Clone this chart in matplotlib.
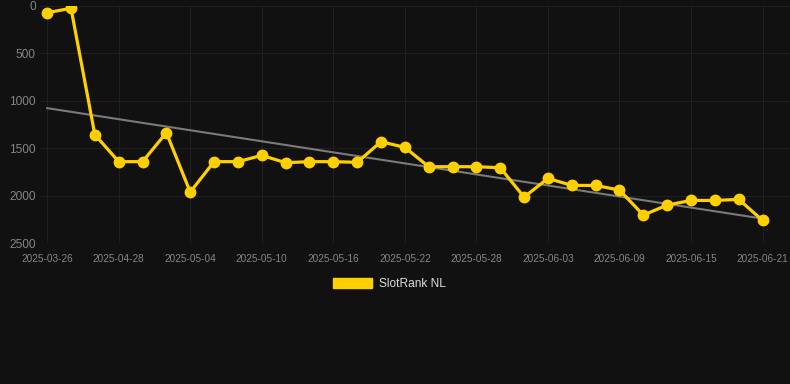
import matplotlib
matplotlib.use("Agg")
import matplotlib.pyplot as plt
import matplotlib.patches as mpatches
import numpy as np

dates = ["2025-03-26", "2025-04-24", "2025-04-26", "2025-04-28", "2025-04-30",
         "2025-05-02", "2025-05-04", "2025-05-06", "2025-05-08", "2025-05-10",
         "2025-05-12", "2025-05-14", "2025-05-16", "2025-05-18", "2025-05-20",
         "2025-05-22", "2025-05-24", "2025-05-26", "2025-05-28", "2025-05-30",
         "2025-06-01", "2025-06-03", "2025-06-05", "2025-06-07", "2025-06-09",
         "2025-06-11", "2025-06-13", "2025-06-15", "2025-06-17", "2025-06-19",
         "2025-06-21"]
rank = [74, 27, 1357, 1641, 1641, 1336, 1961, 1641, 1641, 1575,
        1652, 1641, 1641, 1648, 1431, 1491, 1694, 1694, 1694, 1705,
        2014, 1817, 1891, 1891, 1940, 2203, 2098, 2049, 2049, 2038,
        2259]
series_name = "SlotRank NL"

bg = "#111111"
gold = "#FFD000"
tick_col = "#858585"

plt.rcParams['font.family'] = ['Liberation Sans', 'DejaVu Sans']

fig = plt.figure(figsize=(7.9, 3.84), dpi=100, facecolor=bg)
ax = fig.add_axes([40/790, 1 - 243.3/384, 1 - 40/790, (243.3 - 5.7)/384])
ax.set_facecolor(bg)

x = np.arange(len(rank))
# trend line (least squares)
k, b = np.polyfit(x, rank, 1)
ax.plot(x, k*x + b, color="#7a7a7a", lw=1.5, zorder=2)
ax.plot(x, rank, color=gold, lw=2.3, marker="o", ms=7.5, zorder=3)

ax.set_ylim(2500, 0)
ax.set_yticks([0, 500, 1000, 1500, 2000, 2500])
ax.set_xlim(-0.3, 31.15)
ax.set_xticks(x[::3])
ax.set_xticklabels(dates[::3])

ax.grid(True, color="#222222", lw=0.6)
ax.set_axisbelow(True)
for s in ax.spines.values():
    s.set_visible(False)
ax.tick_params(axis="y", length=0, pad=3, labelsize=8.6, labelcolor=tick_col)
ax.tick_params(axis="x", length=0, pad=8, labelsize=7.2, labelcolor=tick_col)

handle = mpatches.Patch(color=gold)
fig.legend([handle], [series_name], loc="center", bbox_to_anchor=(389/790, 1 - 284/384),
           frameon=False, handlelength=3.3, handleheight=1.0, handletextpad=0.55,
           fontsize=8.6, labelcolor="#dddddd")

fig.savefig("out.png", dpi=100, facecolor=bg)
